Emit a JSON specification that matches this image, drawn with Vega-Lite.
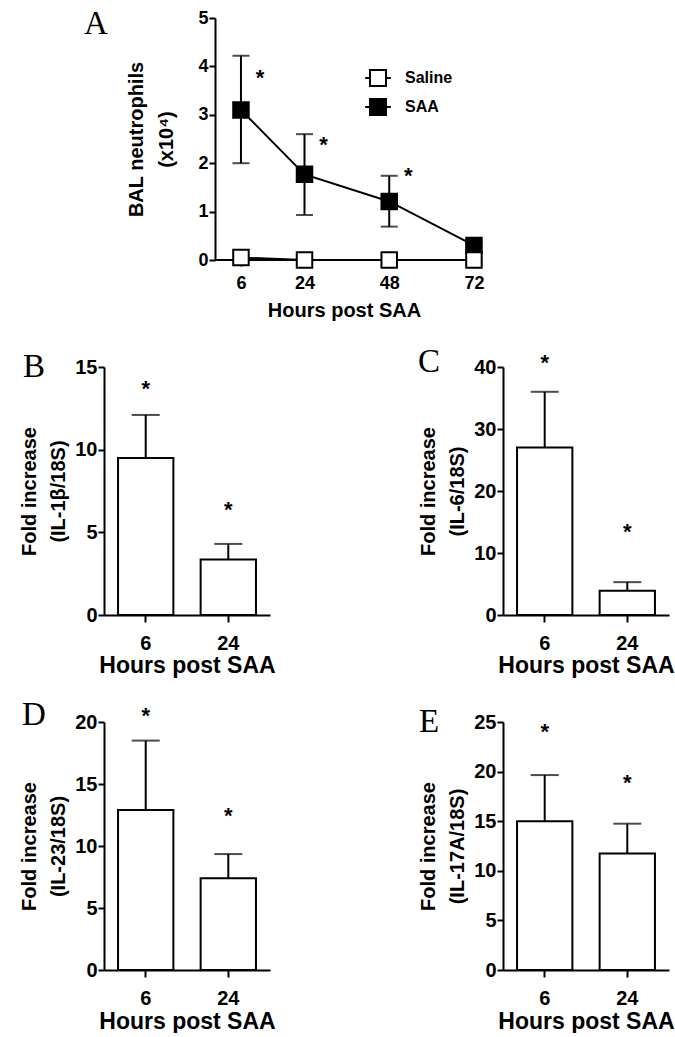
{
  "$schema": "https://vega.github.io/schema/vega-lite/v6.json",
  "background": "white",
  "padding": {"left": 19, "top": 8, "right": 0, "bottom": 0},
  "config": {
    "view": {"stroke": null},
    "font": "Liberation Sans",
    "axis": {
      "grid": false,
      "domainColor": "black",
      "domainWidth": 2,
      "tickColor": "black",
      "tickWidth": 2,
      "labelColor": "black",
      "labelFont": "Liberation Sans",
      "labelFontWeight": "bold",
      "titleFont": "Liberation Sans",
      "titleFontWeight": "bold",
      "titleColor": "black",
      "labelFlush": false,
      "labelOverlap": false
    },
    "title": {"font": "Liberation Serif", "fontWeight": "normal", "color": "black", "fontSize": 33, "anchor": "start", "frame": "group", "orient": "top"}
  },
  "datasets": {
    "neut": [
      {"hour": 6, "group": "Saline", "mean": 0.05},
      {"hour": 24, "group": "Saline", "mean": 0.0},
      {"hour": 48, "group": "Saline", "mean": 0.0},
      {"hour": 72, "group": "Saline", "mean": 0.0},
      {"hour": 6, "group": "SAA", "mean": 3.1, "lo": 2.0, "hi": 4.22, "star": 3.86},
      {"hour": 24, "group": "SAA", "mean": 1.77, "lo": 0.93, "hi": 2.6, "star": 2.48},
      {"hour": 48, "group": "SAA", "mean": 1.21, "lo": 0.69, "hi": 1.74, "star": 1.83},
      {"hour": 72, "group": "SAA", "mean": 0.3, "lo": 0.26, "hi": 0.34}
    ],
    "il": [
      {"panel": "B", "hour": "6", "mean": 9.5, "upper": 12.1, "star": 14.0},
      {"panel": "B", "hour": "24", "mean": 3.36, "upper": 4.3, "star": 6.65},
      {"panel": "C", "hour": "6", "mean": 27.0, "upper": 36.0, "star": 41.4},
      {"panel": "C", "hour": "24", "mean": 3.9, "upper": 5.3, "star": 14.2},
      {"panel": "D", "hour": "6", "mean": 12.9, "upper": 18.5, "star": 20.9},
      {"panel": "D", "hour": "24", "mean": 7.4, "upper": 9.35, "star": 12.8},
      {"panel": "E", "hour": "6", "mean": 15.0, "upper": 19.65, "star": 24.5},
      {"panel": "E", "hour": "24", "mean": 11.75, "upper": 14.75, "star": 19.4}
    ]
  },
  "columns": 2,
  "bounds": "flush",
  "align": "each",
  "spacing": {"row": 107, "column": 22},
  "concat": [
    {
      "width": 377,
      "height": 242,
      "title": {"text": "A", "dx": -20, "offset": -32},
      "data": {"name": "neut"},
      "layer": [
        {
          "mark": {"type": "line", "color": "black", "strokeWidth": 2},
          "encoding": {
            "x": {"field": "hour", "type": "quantitative", "scale": {"domain": [-32.8, 74], "nice": false, "zero": false},
              "axis": {"values": [6, 24, 48, 72], "domain": false, "title": "Hours post SAA", "labelFontSize": 18, "titleFontSize": 20, "tickSize": 6, "labelPadding": 8, "titlePadding": 8, "titleX": 240}},
            "y": {"field": "mean", "type": "quantitative", "scale": {"domain": [0, 5], "nice": false},
              "axis": {"values": [0, 1, 2, 3, 4, 5], "offset": -111, "title": ["BAL neutrophils", "(x10⁴)"], "labelFontSize": 18, "titleFontSize": 20, "titleLineHeight": 30, "tickSize": 6, "labelPadding": 1, "titlePadding": 21}},
            "detail": {"field": "group"}
          }
        },
        {
          "mark": {"type": "rule", "color": "black", "strokeWidth": 2},
          "encoding": {
            "x": {"datum": -1.36, "type": "quantitative"},
            "x2": {"datum": 74},
            "y": {"datum": 0, "type": "quantitative"}
          }
        },
        {
          "transform": [{"filter": "isValid(datum.lo)"}],
          "mark": {"type": "rule", "color": "black", "strokeWidth": 2},
          "encoding": {
            "x": {"field": "hour", "type": "quantitative"},
            "y": {"field": "lo", "type": "quantitative"},
            "y2": {"field": "hi"}
          }
        },
        {
          "transform": [{"filter": "isValid(datum.lo)"}],
          "mark": {"type": "tick", "color": "black", "thickness": 2, "size": 17, "orient": "horizontal"},
          "encoding": {
            "x": {"field": "hour", "type": "quantitative"},
            "y": {"field": "hi", "type": "quantitative"}
          }
        },
        {
          "transform": [{"filter": "isValid(datum.lo)"}],
          "mark": {"type": "tick", "color": "black", "thickness": 2, "size": 17, "orient": "horizontal"},
          "encoding": {
            "x": {"field": "hour", "type": "quantitative"},
            "y": {"field": "lo", "type": "quantitative"}
          }
        },
        {
          "transform": [{"filter": "datum.group === 'SAA'"}],
          "mark": {"type": "point", "shape": "square", "size": 240, "filled": true, "stroke": "black", "strokeWidth": 2, "opacity": 1},
          "encoding": {
            "x": {"field": "hour", "type": "quantitative"},
            "y": {"field": "mean", "type": "quantitative"},
            "fill": {"field": "group", "type": "nominal", "scale": {"domain": ["Saline", "SAA"], "range": ["white", "black"]},
              "legend": {"title": null, "orient": "none", "legendX": 265, "legendY": 51, "symbolType": "M-1.6,0H-1M1,0H1.6M-1,-1H1V1H-1Z", "symbolSize": 256, "symbolStrokeColor": "black", "symbolStrokeWidth": 2, "labelFontSize": 16, "labelFont": "Liberation Sans", "labelFontWeight": "bold", "labelColor": "black", "rowPadding": 5, "labelOffset": 18}}
          }
        },
        {
          "transform": [{"filter": "datum.group === 'Saline'"}],
          "mark": {"type": "point", "shape": "square", "size": 240, "filled": true, "stroke": "black", "strokeWidth": 2, "opacity": 1},
          "encoding": {
            "x": {"field": "hour", "type": "quantitative"},
            "y": {"field": "mean", "type": "quantitative"},
            "fill": {"field": "group", "type": "nominal"}
          }
        },
        {
          "transform": [{"filter": "isValid(datum.star)"}],
          "mark": {"type": "text", "text": "*", "fontSize": 22, "fontWeight": "bold", "font": "Liberation Sans", "color": "black", "baseline": "alphabetic", "dx": 19, "dy": 12},
          "encoding": {
            "x": {"field": "hour", "type": "quantitative"},
            "y": {"field": "star", "type": "quantitative"}
          }
        }
      ]
    },
    {"data": {"values": [{"s": 0}]}, "mark": {"type": "point", "opacity": 0}, "encoding": {}, "width": 1, "height": 1},
    {
      "width": 166, "height": 248,
      "title": {"text": "B", "dx": -81, "offset": -27},
      "data": {"name": "il"},
      "transform": [{"filter": "datum.panel === 'B'"}],
      "encoding": {"x": {"field": "hour", "type": "ordinal", "sort": ["6", "24"], "scale": {"paddingInner": 0.33, "paddingOuter": 0.17},
        "axis": {"title": "Hours post SAA", "labelAngle": 0, "labelFontSize": 20, "titleFontSize": 23, "tickSize": 7, "labelPadding": 11, "titlePadding": 1}}},
      "layer": [
        {"mark": {"type": "bar", "fill": "white", "stroke": "black", "strokeWidth": 2},
          "encoding": {"y": {"field": "mean", "type": "quantitative", "scale": {"domain": [0, 15], "nice": false},
            "axis": {"values": [0, 5, 10, 15], "title": ["Fold increase", "(IL-1β/18S)"], "labelFontSize": 20, "titleFontSize": 20, "titleLineHeight": 29, "tickSize": 6, "labelPadding": 1, "titlePadding": 6}}}},
        {"mark": {"type": "rule", "color": "black", "strokeWidth": 2}, "encoding": {"y": {"field": "mean", "type": "quantitative"}, "y2": {"field": "upper"}}},
        {"mark": {"type": "tick", "color": "black", "thickness": 2, "size": 28, "orient": "horizontal"}, "encoding": {"y": {"field": "upper", "type": "quantitative"}}},
        {"mark": {"type": "text", "text": "*", "fontSize": 22, "fontWeight": "bold", "font": "Liberation Sans", "color": "black", "baseline": "alphabetic", "dy": 12}, "encoding": {"y": {"field": "star", "type": "quantitative"}}}
      ]
    },
    {
      "width": 166, "height": 248,
      "title": {"text": "C", "dx": -85, "offset": -27},
      "data": {"name": "il"},
      "transform": [{"filter": "datum.panel === 'C'"}],
      "encoding": {"x": {"field": "hour", "type": "ordinal", "sort": ["6", "24"], "scale": {"paddingInner": 0.33, "paddingOuter": 0.17},
        "axis": {"title": "Hours post SAA", "labelAngle": 0, "labelFontSize": 20, "titleFontSize": 23, "tickSize": 7, "labelPadding": 11, "titlePadding": 1}}},
      "layer": [
        {"mark": {"type": "bar", "fill": "white", "stroke": "black", "strokeWidth": 2},
          "encoding": {"y": {"field": "mean", "type": "quantitative", "scale": {"domain": [0, 40], "nice": false},
            "axis": {"values": [0, 10, 20, 30, 40], "title": ["Fold increase", "(IL-6/18S)"], "labelFontSize": 20, "titleFontSize": 20, "titleLineHeight": 29, "tickSize": 6, "labelPadding": 1, "titlePadding": 6}}}},
        {"mark": {"type": "rule", "color": "black", "strokeWidth": 2}, "encoding": {"y": {"field": "mean", "type": "quantitative"}, "y2": {"field": "upper"}}},
        {"mark": {"type": "tick", "color": "black", "thickness": 2, "size": 28, "orient": "horizontal"}, "encoding": {"y": {"field": "upper", "type": "quantitative"}}},
        {"mark": {"type": "text", "text": "*", "fontSize": 22, "fontWeight": "bold", "font": "Liberation Sans", "color": "black", "baseline": "alphabetic", "dy": 12}, "encoding": {"y": {"field": "star", "type": "quantitative"}}}
      ]
    },
    {
      "width": 166, "height": 248,
      "title": {"text": "D", "dx": -82, "offset": -27},
      "data": {"name": "il"},
      "transform": [{"filter": "datum.panel === 'D'"}],
      "encoding": {"x": {"field": "hour", "type": "ordinal", "sort": ["6", "24"], "scale": {"paddingInner": 0.33, "paddingOuter": 0.17},
        "axis": {"title": "Hours post SAA", "labelAngle": 0, "labelFontSize": 20, "titleFontSize": 23, "tickSize": 7, "labelPadding": 11, "titlePadding": 2}}},
      "layer": [
        {"mark": {"type": "bar", "fill": "white", "stroke": "black", "strokeWidth": 2},
          "encoding": {"y": {"field": "mean", "type": "quantitative", "scale": {"domain": [0, 20], "nice": false},
            "axis": {"values": [0, 5, 10, 15, 20], "title": ["Fold increase", "(IL-23/18S)"], "labelFontSize": 20, "titleFontSize": 20, "titleLineHeight": 29, "tickSize": 6, "labelPadding": 1, "titlePadding": 6}}}},
        {"mark": {"type": "rule", "color": "black", "strokeWidth": 2}, "encoding": {"y": {"field": "mean", "type": "quantitative"}, "y2": {"field": "upper"}}},
        {"mark": {"type": "tick", "color": "black", "thickness": 2, "size": 28, "orient": "horizontal"}, "encoding": {"y": {"field": "upper", "type": "quantitative"}}},
        {"mark": {"type": "text", "text": "*", "fontSize": 22, "fontWeight": "bold", "font": "Liberation Sans", "color": "black", "baseline": "alphabetic", "dy": 12}, "encoding": {"y": {"field": "star", "type": "quantitative"}}}
      ]
    },
    {
      "width": 166, "height": 248,
      "title": {"text": "E", "dx": -84, "offset": -27},
      "data": {"name": "il"},
      "transform": [{"filter": "datum.panel === 'E'"}],
      "encoding": {"x": {"field": "hour", "type": "ordinal", "sort": ["6", "24"], "scale": {"paddingInner": 0.33, "paddingOuter": 0.17},
        "axis": {"title": "Hours post SAA", "labelAngle": 0, "labelFontSize": 20, "titleFontSize": 23, "tickSize": 7, "labelPadding": 11, "titlePadding": 2}}},
      "layer": [
        {"mark": {"type": "bar", "fill": "white", "stroke": "black", "strokeWidth": 2},
          "encoding": {"y": {"field": "mean", "type": "quantitative", "scale": {"domain": [0, 25], "nice": false},
            "axis": {"values": [0, 5, 10, 15, 20, 25], "title": ["Fold increase", "(IL-17A/18S)"], "labelFontSize": 20, "titleFontSize": 20, "titleLineHeight": 29, "tickSize": 6, "labelPadding": 1, "titlePadding": 6}}}},
        {"mark": {"type": "rule", "color": "black", "strokeWidth": 2}, "encoding": {"y": {"field": "mean", "type": "quantitative"}, "y2": {"field": "upper"}}},
        {"mark": {"type": "tick", "color": "black", "thickness": 2, "size": 28, "orient": "horizontal"}, "encoding": {"y": {"field": "upper", "type": "quantitative"}}},
        {"mark": {"type": "text", "text": "*", "fontSize": 22, "fontWeight": "bold", "font": "Liberation Sans", "color": "black", "baseline": "alphabetic", "dy": 12}, "encoding": {"y": {"field": "star", "type": "quantitative"}}}
      ]
    }
  ]
}
